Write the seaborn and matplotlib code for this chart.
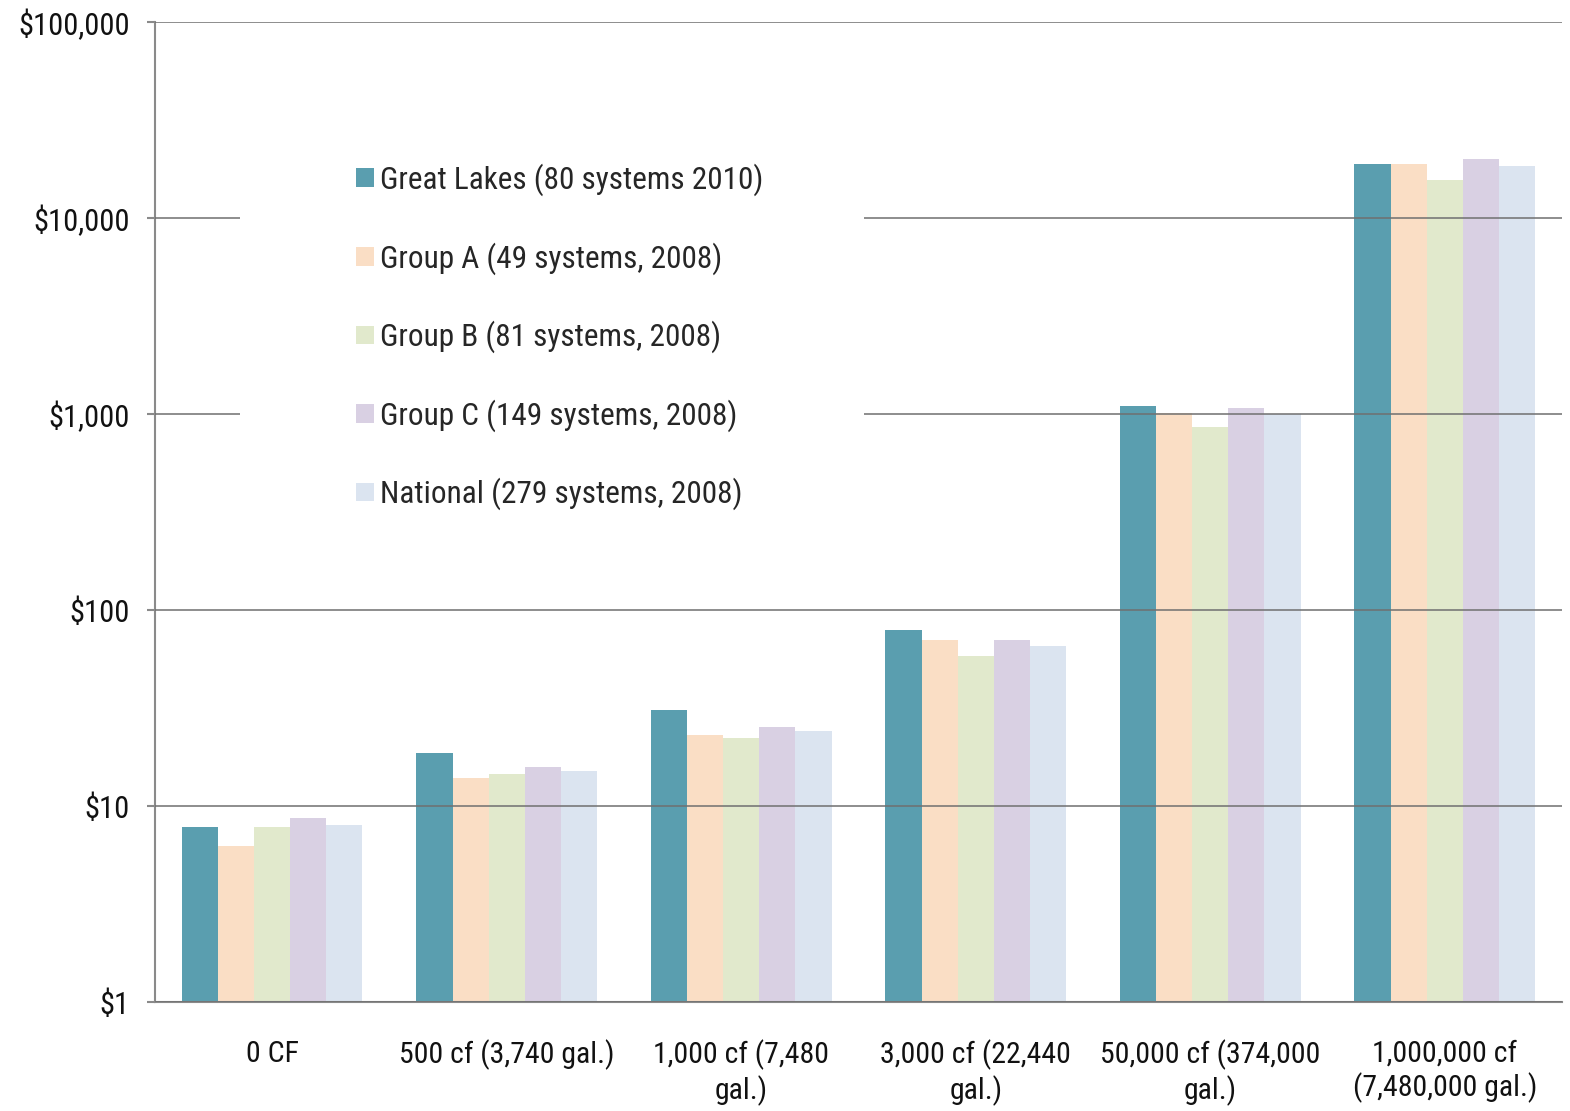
import matplotlib
matplotlib.use("Agg")
import matplotlib.pyplot as plt
import matplotlib.ticker as mticker
from matplotlib.patches import Rectangle
import seaborn as sns
import pandas as pd

# usage levels on the x axis
categories = [
    "0 CF",
    "500 cf (3,740 gal.)",
    "1,000 cf (7,480\ngal.)",
    "3,000 cf (22,440\ngal.)",
    "50,000 cf (374,000\ngal.)",
    "1,000,000 cf\n(7,480,000 gal.)",
]

series = [
    "Great Lakes (80 systems 2010)",
    "Group A (49 systems, 2008)",
    "Group B (81 systems, 2008)",
    "Group C (149 systems, 2008)",
    "National (279 systems, 2008)",
]

# monthly bill ($)
great_lakes = [7.8, 18.6, 30.9, 79, 1100, 18900]
group_a = [6.25, 13.9, 23.0, 70, 1010, 18900]
group_b = [7.8, 14.6, 22.2, 58, 860, 15600]
group_c = [8.7, 15.8, 25.3, 70, 1075, 20000]
national = [8.0, 15.1, 24.1, 65.5, 1000, 18400]

colors = ["#5A9EAF", "#FADEC5", "#E1E9CC", "#D9D0E3", "#DBE4F0"]

rows = []
for name, vals in zip(series, [great_lakes, group_a, group_b, group_c, national]):
    for cat, v in zip(categories, vals):
        rows.append({"Usage": cat, "Series": name, "Bill": v})
df = pd.DataFrame(rows)

sns.set_theme(style="white")
plt.rcParams["font.family"] = ["Roboto Condensed", "Archivo Narrow", "IBM Plex Sans Condensed", "DejaVu Sans"]

fig = plt.figure(figsize=(15.7, 11.11), dpi=100)
ax = fig.add_axes([0.0987, 0.0981, 0.8962, 0.8821])
ax.set_yscale("log")

sns.barplot(data=df, x="Usage", y="Bill", hue="Series", order=categories,
            hue_order=series, palette=colors, width=0.77, linewidth=0,
            saturation=1, ax=ax)

ax.set_ylim(1, 100000)
ax.set_xlim(-0.5, len(categories) - 0.5)
ax.yaxis.set_major_locator(mticker.LogLocator(base=10, numticks=10))
ax.yaxis.set_minor_locator(mticker.NullLocator())
ax.yaxis.set_major_formatter(mticker.FuncFormatter(lambda v, p: f"${v:,.0f}"))

# gridlines drawn over the bars
ax.set_axisbelow(False)
ax.yaxis.grid(True, color="#707070", linewidth=1.3, alpha=0.85)
ax.xaxis.grid(False)

for side in ["top", "right"]:
    ax.spines[side].set_visible(False)
for side in ["left", "bottom"]:
    ax.spines[side].set_color("#8a8a8a")
    ax.spines[side].set_linewidth(1.5)

ax.set_xticks([i - 0.5 for i in range(len(categories) + 1)], minor=True)
ax.tick_params(axis="x", which="major", length=0, pad=27, labelsize=21.5, colors="#111111")
ax.tick_params(axis="x", which="minor", length=7, width=1.5, color="#8a8a8a", direction="out")
ax.tick_params(axis="y", which="major", length=6, width=1.5, color="#8a8a8a", direction="out",
               left=True, pad=12, labelsize=22, labelcolor="#111111")
ax.set_xlabel("")
ax.set_ylabel("")

# white panel behind the legend hides the gridlines there
ax.add_patch(Rectangle((0.0604, 0.471), 0.4435, 0.42, transform=ax.transAxes,
                       facecolor="white", edgecolor="none", zorder=4))

leg = ax.legend(loc="upper left", bbox_to_anchor=(0.1429, 0.8555), frameon=False,
                fontsize=22.5, handlelength=0.58, handleheight=0.55, handletextpad=0.2,
                labelspacing=1.47, borderpad=0, borderaxespad=0)
leg.set_zorder(5)

fig.savefig("out.png", dpi=100)
